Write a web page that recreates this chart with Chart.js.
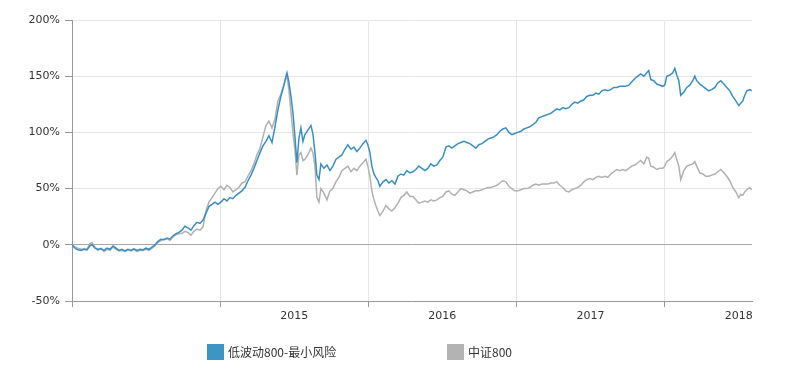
<!DOCTYPE html>
<html>
<head>
<meta charset="utf-8">
<script src="https://cdn.jsdelivr.net/npm/chart.js@4/dist/chart.umd.min.js"></script>
<style>
  body { margin: 0; background: #fff; }
  #wrap { position: relative; width: 806px; height: 374px; }
  #legend { position: absolute; left: 207px; top: 343px; display: flex; font-family: "Noto Sans CJK SC", sans-serif; font-size: 12px; color: #333; }
  #legend .item { width: 240px; display: flex; align-items: center; }
  #legend .box { width: 17px; height: 16px; margin-right: 4px; }
</style>
</head>
<body>
<div id="wrap">
  <canvas id="grafico" width="806" height="374"></canvas>
  <div id="legend"></div>
</div>
<script>
// dates as decimal years
var dates = [
  2014.000, 2014.020, 2014.040, 2014.061, 2014.081, 2014.101, 2014.121, 2014.135, 2014.155, 2014.175,
  2014.196, 2014.216, 2014.236, 2014.256, 2014.277, 2014.297, 2014.317, 2014.337, 2014.358, 2014.378,
  2014.398, 2014.418, 2014.439, 2014.459, 2014.479, 2014.499, 2014.520, 2014.540, 2014.560, 2014.580,
  2014.601, 2014.621, 2014.641, 2014.661, 2014.682, 2014.702, 2014.722, 2014.742, 2014.762, 2014.783,
  2014.803, 2014.823, 2014.843, 2014.864, 2014.884, 2014.904, 2014.924, 2014.945, 2014.965, 2014.985,
  2015.005, 2015.026, 2015.046, 2015.066, 2015.086, 2015.107, 2015.127, 2015.147, 2015.167, 2015.188,
  2015.208, 2015.228, 2015.248, 2015.269, 2015.289, 2015.309, 2015.329, 2015.350, 2015.370, 2015.390,
  2015.410, 2015.431, 2015.444, 2015.451, 2015.464, 2015.478, 2015.491, 2015.505, 2015.518, 2015.532,
  2015.545, 2015.559, 2015.572, 2015.592, 2015.613, 2015.626, 2015.640, 2015.653, 2015.667, 2015.680,
  2015.700, 2015.721, 2015.741, 2015.761, 2015.781, 2015.802, 2015.822, 2015.842, 2015.862, 2015.883,
  2015.903, 2015.923, 2015.943, 2015.964, 2015.984, 2015.997, 2016.011, 2016.024, 2016.038, 2016.051,
  2016.065, 2016.078, 2016.099, 2016.119, 2016.139, 2016.159, 2016.180, 2016.200, 2016.220, 2016.240,
  2016.260, 2016.281, 2016.301, 2016.321, 2016.341, 2016.362, 2016.382, 2016.402, 2016.422, 2016.443,
  2016.463, 2016.483, 2016.503, 2016.524, 2016.544, 2016.564, 2016.584, 2016.605, 2016.625, 2016.645,
  2016.665, 2016.686, 2016.706, 2016.726, 2016.746, 2016.767, 2016.787, 2016.807, 2016.827, 2016.848,
  2016.868, 2016.888, 2016.908, 2016.929, 2016.949, 2016.969, 2016.989, 2017.009, 2017.030, 2017.050,
  2017.070, 2017.090, 2017.111, 2017.131, 2017.151, 2017.171, 2017.192, 2017.212, 2017.232, 2017.252,
  2017.273, 2017.293, 2017.313, 2017.333, 2017.354, 2017.374, 2017.394, 2017.414, 2017.435, 2017.455,
  2017.475, 2017.495, 2017.516, 2017.536, 2017.556, 2017.576, 2017.597, 2017.617, 2017.637, 2017.657,
  2017.677, 2017.698, 2017.718, 2017.738, 2017.758, 2017.779, 2017.799, 2017.819, 2017.839, 2017.860,
  2017.880, 2017.893, 2017.907, 2017.927, 2017.947, 2017.968, 2017.988, 2018.001, 2018.015, 2018.035,
  2018.055, 2018.069, 2018.082, 2018.096, 2018.109, 2018.130, 2018.150, 2018.170, 2018.190, 2018.204,
  2018.217, 2018.238, 2018.258, 2018.278, 2018.298, 2018.318, 2018.339, 2018.359, 2018.379, 2018.400,
  2018.420, 2018.440, 2018.460, 2018.481, 2018.501, 2018.514, 2018.528, 2018.541, 2018.555, 2018.575,
  2018.588
];

// 低波动800-最小风险, cumulative return %
var baixaVol = [
  0, -3, -4.5, -5, -4, -4.5, -1, 0, -3, -4,
  -3.5, -5, -3, -4, -1, -3, -5, -4, -5.5, -4,
  -5, -3.5, -5, -4, -4.5, -3, -4, -2, 0, 3,
  5, 4.5, 6, 5, 8, 10, 11, 13, 16.5, 15,
  13, 17, 20, 19, 22, 28, 34, 36, 38, 36,
  38, 41, 39, 42, 41, 44, 46, 48, 51, 57,
  62, 68, 75, 82, 88, 92, 97, 91, 105, 120,
  132, 142, 150, 153, 145, 132, 118, 96, 73, 95,
  104, 92, 98, 102, 106, 99, 82, 62, 58, 72,
  68, 71, 66, 70, 76, 78, 80, 85, 89, 85,
  87, 83, 86, 90, 93, 89, 82, 70, 63, 60,
  57, 52, 56, 58, 55, 57, 54, 61, 63, 62,
  66, 64, 65, 67, 70, 68, 66, 68, 72, 70,
  71, 75, 78, 87, 88, 86, 88, 90, 91, 92,
  91, 90, 88, 86, 89, 90, 92, 94, 95, 96,
  98, 101, 103, 104, 100, 98, 99, 100, 101, 103,
  104, 105, 107, 109, 113, 114, 115, 116, 117, 119,
  121, 120, 122, 121, 122, 125, 127, 126, 128, 129,
  132, 133, 133, 135, 134, 137, 138, 137, 138, 140,
  140, 141, 141, 141, 142, 145, 148, 150, 152, 150,
  153, 155, 147, 146, 143, 142, 141, 142, 150, 151,
  153, 157, 151, 146, 133, 136, 140, 142, 146, 150,
  146, 143, 141, 139, 137, 138, 140, 144, 146, 143,
  140, 137, 132, 128, 124, 126, 128, 133, 137, 138,
  137
];

// 中证800
var zz800 = [
  0, -2, -3, -4, -3.5, -4, 1, 2, -2, -5,
  -3, -6, -4, -5, -2, -4, -5.5, -5, -6, -4.5,
  -5.5, -4, -6, -5, -5, -4, -5, -3, -1, 2,
  4, 5, 5.5, 4, 7, 9, 10, 10, 12, 11,
  8.5, 12, 14, 13, 16, 30, 38, 42, 46, 50,
  52, 49, 53, 51, 47, 49, 51, 55, 56, 61,
  66, 72, 80, 86, 96, 106, 110, 104, 112, 128,
  134, 143, 148, 150, 138, 118, 100, 84, 62, 80,
  82, 75, 76, 80, 86, 82, 70, 42, 38, 50,
  46, 40, 48, 50, 56, 60, 66, 68, 70, 65,
  68, 66, 70, 73, 76, 70, 61, 48, 40, 35,
  30, 26, 30, 35, 32, 30, 33, 37, 42, 44,
  47, 43, 43, 40, 37, 38, 39, 38, 40, 39,
  40, 42, 43, 47, 48, 45, 44, 47, 50, 49,
  48, 46, 47, 48, 48, 49, 50, 51, 51, 52,
  53, 55, 57, 56, 52, 50, 48, 48, 49, 50,
  50, 51, 53, 54, 53, 54, 54, 54, 55, 55,
  56, 53, 51, 48, 47, 49, 50, 51, 53, 56,
  58, 59, 58, 60, 61, 60, 61, 60, 63, 65,
  67, 66, 67, 66, 68, 70, 71, 73, 75, 72,
  78, 77, 70, 69, 67, 68, 68, 70, 74, 76,
  79, 82, 76, 70, 58, 66, 70, 71, 72, 74,
  70, 64, 63, 61, 61, 62, 63, 65, 67, 64,
  61, 57, 51, 47, 42, 45, 44, 47, 49, 51,
  49
];

var anosLabel = [2015, 2016, 2017, 2018];
var posTicks = [2014, 2014.5, 2015, 2015.5, 2016, 2016.5, 2017, 2017.5, 2018, 2018.5];

function pontos(valores) {
  return valores.map(function (v, i) { return { x: dates[i], y: v }; });
}

Chart.defaults.font.family = "'DejaVu Sans', sans-serif";
Chart.defaults.font.size = 11;
Chart.defaults.color = "#333";

var ctx = document.getElementById("grafico").getContext("2d");

var chart = new Chart(ctx, {
  type: "line",
  data: {
    datasets: [
      {
        label: "低波动800-最小风险",
        data: pontos(baixaVol),
        borderColor: "#3a8fc0",
        backgroundColor: "#3d95c4",
        borderWidth: 1.5,
        pointRadius: 0,
        tension: 0
      },
      {
        label: "中证800",
        data: pontos(zz800),
        borderColor: "#b1b1b1",
        backgroundColor: "#b3b3b3",
        borderWidth: 1.5,
        pointRadius: 0,
        tension: 0
      }
    ]
  },
  options: {
    responsive: false,
    animation: false,
    layout: { padding: { left: 0, top: 20, right: 54, bottom: 0 } },
    plugins: {
      legend: { display: false },
      tooltip: { enabled: false }
    },
    scales: {
      x: {
        type: "linear",
        min: 2014,
        max: 2018.59,
        afterBuildTicks: function (s) {
          s.ticks = posTicks.map(function (v) { return { value: v }; });
        },
        afterFit: function (s) { s.height = 73; },
        ticks: {
          autoSkip: false,
          maxRotation: 0,
          padding: 3,
          callback: function (v) {
            var ano = Math.floor(v);
            if (v - ano === 0.5 && anosLabel.indexOf(ano) != -1) return String(ano);
            return "";
          }
        },
        grid: {
          color: function (c) { return c.tick && c.tick.value % 1 === 0 ? "#e6e6e6" : "rgba(0,0,0,0)"; },
          tickColor: function (c) { return c.tick && c.tick.value % 1 === 0 ? "#999" : "rgba(0,0,0,0)"; },
          tickLength: 6
        },
        border: { color: "#999" }
      },
      y: {
        min: -50,
        max: 200,
        afterFit: function (s) { s.width = 72; },
        ticks: {
          stepSize: 50,
          padding: 5,
          callback: function (v) { return v + "%"; }
        },
        grid: {
          color: function (c) { return c.tick && c.tick.value === 0 ? "#a8a8a8" : "#e6e6e6"; },
          tickColor: "#999",
          tickLength: 7
        },
        border: { color: "#999" }
      }
    }
  }
});

// legenda em html
var legenda = document.getElementById("legend");
chart.data.datasets.forEach(function (ds) {
  var item = document.createElement("div");
  item.className = "item";
  var box = document.createElement("span");
  box.className = "box";
  box.style.background = ds.backgroundColor;
  var txt = document.createElement("span");
  txt.textContent = ds.label;
  item.appendChild(box);
  item.appendChild(txt);
  legenda.appendChild(item);
});
</script>
</body>
</html>
